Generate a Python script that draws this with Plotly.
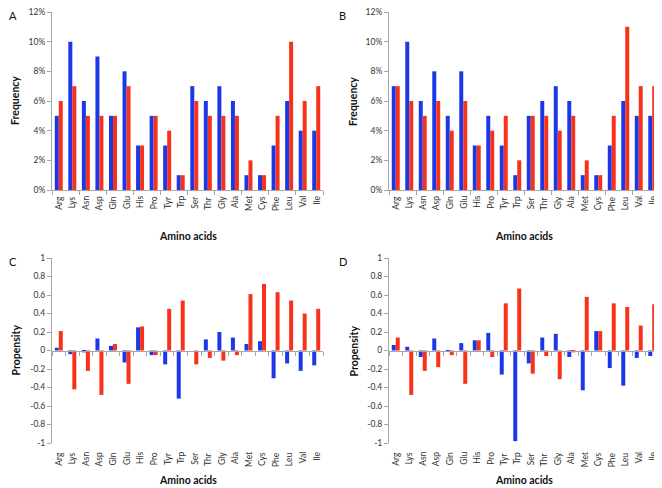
import plotly.graph_objects as go

# amino acid categories
amino = ["Arg", "Lys", "Asn", "Asp", "Gln", "Glu", "His", "Pro", "Tyr", "Trp",
         "Ser", "Thr", "Gly", "Ala", "Met", "Cys", "Phe", "Leu", "Val", "Ile"]

# panel A - frequency (%)
a_blue = [5, 10, 6, 9, 5, 8, 3, 5, 3, 1, 7, 6, 7, 6, 1, 1, 3, 6, 4, 4]
a_red = [6, 7, 5, 5, 5, 7, 3, 5, 4, 1, 6, 5, 5, 5, 2, 1, 5, 10, 6, 7]

# panel B - frequency (%)
b_blue = [7, 10, 6, 8, 5, 8, 3, 5, 3, 1, 5, 6, 7, 6, 1, 1, 3, 6, 5, 5]
b_red = [7, 6, 5, 6, 4, 6, 3, 4, 5, 2, 5, 5, 4, 5, 2, 1, 5, 11, 7, 7]

# panel C - propensity
c_blue = [0.03, -0.04, -0.02, 0.13, 0.05, -0.13, 0.25, -0.05, -0.15, -0.52,
          0.0, 0.12, 0.20, 0.14, 0.07, 0.10, -0.30, -0.14, -0.22, -0.16]
c_red = [0.21, -0.42, -0.22, -0.48, 0.07, -0.36, 0.26, -0.05, 0.45, 0.54,
         -0.15, -0.08, -0.11, -0.05, 0.61, 0.72, 0.63, 0.54, 0.40, 0.45]

# panel D - propensity
d_blue = [0.06, 0.04, -0.07, 0.13, -0.01, 0.08, 0.11, 0.19, -0.26, -0.98,
          -0.14, 0.14, 0.18, -0.07, -0.43, 0.21, -0.19, -0.38, -0.08, -0.06]
d_red = [0.14, -0.48, -0.22, -0.18, -0.05, -0.36, 0.11, -0.07, 0.51, 0.67,
         -0.25, -0.06, -0.31, -0.02, 0.58, 0.21, 0.51, 0.47, 0.27, 0.50]

# axis ticks
freq_ticks = [0, 2, 4, 6, 8, 10, 12]
prop_ticks = [-1, -0.8, -0.6, -0.4, -0.2, 0, 0.2, 0.4, 0.6, 0.8, 1]

BLUE = "#1a37e8"
RED = "#f8311a"
AXC = "#a6a6a6"
TXT = "#333333"
FONT = "Lato"
OFF = 8            # page body margin of the html file
W, H = 662 - OFF, 488 - OFF

# page pixel positions -> paper coords
def px(v):
    return (v - OFF) / W

def py(v):
    return 1 - (v - OFF) / H

def xd(l, r):
    return [px(l), px(r)]

def yd(t, b):
    return [py(b), py(t)]

# letter, blue, red, x domain, y domain, kind, label top, title y, ytitle x, letter x, letter y
panels = [
    ("A", a_blue, a_red, xd(52, 323), yd(12, 190), "freq", 195, 236, 15, 8, 8),
    ("B", b_blue, b_red, xd(389, 659), yd(12, 190), "freq", 195, 236, 353, 338, 8),
    ("C", c_blue, c_red, xd(52, 323), yd(258, 443), "prop", 451, 480, 15, 8, 254),
    ("D", d_blue, d_red, xd(389, 659), yd(258, 443), "prop", 451, 480, 353, 338, 254),
]

tickfont = dict(family=FONT, size=8.5, color=TXT)
fig = go.Figure()
layout = dict(
    width=W, height=H, margin=dict(l=0, r=0, t=0, b=0),
    paper_bgcolor="white", plot_bgcolor="white",
    showlegend=False, barmode="group", bargap=0.41, bargroupgap=0,
    font=dict(family=FONT, size=9, color=TXT),
)
annotations = []

for i, (letter, blue, red, xdom, ydom, kind, lab_top, title_y, yt_x, let_x, let_y) in enumerate(panels):
    n = i + 1
    xa = "x" if n == 1 else f"x{n}"
    ya = "y" if n == 1 else f"y{n}"
    fig.add_trace(go.Bar(x=amino, y=blue, marker=dict(color=BLUE, line=dict(width=0)),
                         xaxis=xa, yaxis=ya))
    fig.add_trace(go.Bar(x=amino, y=red, marker=dict(color=RED, line=dict(width=0)),
                         xaxis=xa, yaxis=ya))

    xkey = "xaxis" if n == 1 else f"xaxis{n}"
    ykey = "yaxis" if n == 1 else f"yaxis{n}"
    xcommon = dict(domain=xdom, anchor=ya, type="category", categoryorder="array",
                   categoryarray=amino, showticklabels=False,
                   showgrid=False, zeroline=False, automargin=False)
    ycommon = dict(domain=ydom, anchor=xa, showline=True, linecolor=AXC, ticks="outside",
                   ticklen=4, tickcolor=AXC, showgrid=False, zeroline=False,
                   automargin=False, ticklabeloverflow="allow", tickfont=tickfont)
    if kind == "freq":
        layout[xkey] = dict(xcommon, showline=True, linecolor=AXC, linewidth=1,
                            ticks="outside", tickson="boundaries", ticklen=4, tickcolor=AXC)
        layout[ykey] = dict(ycommon, range=[0, 12], tickmode="array", tickvals=freq_ticks,
                            ticktext=[f"{v}%" for v in freq_ticks])
        ytitle = "Frequency"
    else:
        layout[xkey] = dict(xcommon, showline=False, ticks="")
        layout[ykey] = dict(ycommon, range=[-1, 1], tickmode="array", tickvals=prop_ticks,
                            ticktext=[f"{v:g}" for v in prop_ticks])
        # axis line with category ticks crossing at zero
        oid = n + 4
        layout[f"xaxis{oid}"] = dict(domain=xdom, overlaying=xa, anchor="free",
                                     position=(ydom[0] + ydom[1]) / 2,
                                     range=[-0.5, len(amino) - 0.5], tickmode="linear",
                                     tick0=-0.5, dtick=1,
                                     showline=True, linecolor=AXC, ticks="outside",
                                     ticklen=4, tickcolor=AXC, showticklabels=False,
                                     showgrid=False, zeroline=False, automargin=False)
        fig.add_trace(go.Scatter(x=[], y=[], xaxis=f"x{oid}", yaxis=ya))
        ytitle = "Propensity"

    # category labels, rotated, placed on the category axis
    for name in amino:
        annotations.append(dict(text=name, x=name, xref=xa, y=py(lab_top), yref="paper",
                                textangle=-90, showarrow=False, xanchor="center",
                                yanchor="top", borderpad=0,
                                font=dict(family=FONT, size=8.5, color=TXT)))

    xmid = (xdom[0] + xdom[1]) / 2
    ymid = (ydom[0] + ydom[1]) / 2
    annotations.append(dict(text="<b>Amino acids</b>", x=xmid, y=py(title_y),
                            xref="paper", yref="paper", showarrow=False,
                            xanchor="center", yanchor="middle",
                            font=dict(family=FONT, size=10.5, color="#111")))
    annotations.append(dict(text=f"<b>{ytitle}</b>", x=px(yt_x), y=ymid, xref="paper",
                            yref="paper", showarrow=False, textangle=-90,
                            xanchor="center", yanchor="middle",
                            font=dict(family=FONT, size=10.5, color="#111")))
    annotations.append(dict(text=letter, x=px(let_x), y=py(let_y), xref="paper",
                            yref="paper", showarrow=False, xanchor="left", yanchor="top",
                            borderpad=0, font=dict(family=FONT, size=11, color="#111")))

layout["annotations"] = annotations
fig.update_layout(**layout)
fig.write_html("out.html")
